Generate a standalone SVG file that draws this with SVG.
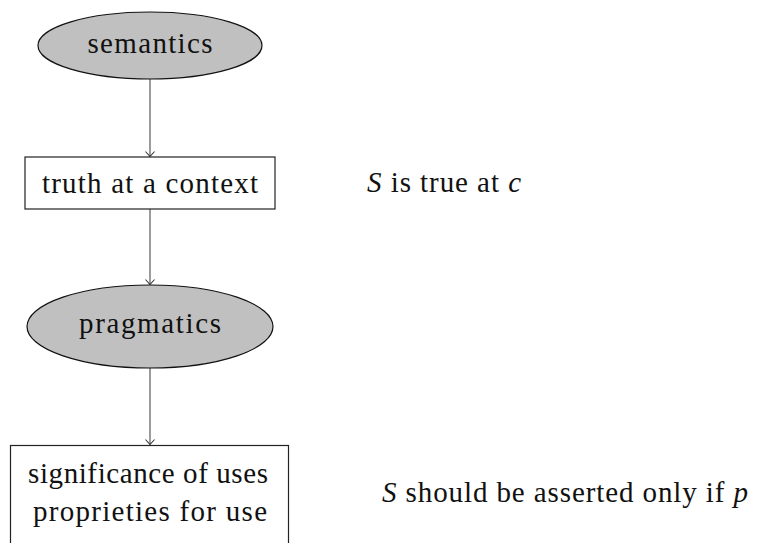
<svg xmlns="http://www.w3.org/2000/svg" width="758" height="543" viewBox="0 0 758 543" font-family="'Liberation Serif', 'Times New Roman', serif">
<defs>
<style>
text{font-family:"Liberation Serif","Times New Roman",serif;font-size:29px;fill:#111}
.c{text-anchor:middle}
.i{font-style:italic}
.ell{fill:#c0c0c0;stroke:#111;stroke-width:1.2}
.box{fill:#fff;stroke:#222;stroke-width:1.2}
.edge{stroke:#666;stroke-width:1.3;fill:none}
</style>
<marker id="ah" markerWidth="12" markerHeight="12" refX="8" refY="6" orient="auto" markerUnits="userSpaceOnUse">
<path d="M3,1.5 L8,6 L3,10.5" fill="none" stroke="#333" stroke-width="1.1"/>
</marker>
</defs>
<rect width="758" height="543" fill="#fff"/>
<g id="connectors">
<line class="edge" x1="150" y1="79" x2="150" y2="156.5" marker-end="url(#ah)"/>
<line class="edge" x1="150" y1="209" x2="150" y2="284.5" marker-end="url(#ah)"/>
<line class="edge" x1="150" y1="368" x2="150" y2="444.5" marker-end="url(#ah)"/>
</g>
<g id="semantics">
<ellipse class="ell" cx="150" cy="45.5" rx="112" ry="33.5"/>
<text class="c" x="150" y="53" textLength="125">semantics</text>
</g>
<g id="truth">
<rect class="box" x="25" y="157" width="250" height="52"/>
<text class="c" x="150" y="193" textLength="216">truth at a context</text>
</g>
<g id="truth-label">
<text x="367" y="192" textLength="154"><tspan class="i">S</tspan> is true at <tspan class="i">c</tspan></text>
</g>
<g id="pragmatics">
<ellipse class="ell" cx="150" cy="326.5" rx="123" ry="41.5"/>
<text class="c" x="150" y="333" textLength="142">pragmatics</text>
</g>
<g id="significance">
<rect class="box" x="10.5" y="445.5" width="278" height="120"/>
<text class="c" x="148" y="483" textLength="240">significance of uses</text>
<text class="c" x="150" y="521" textLength="234">proprieties for use</text>
</g>
<g id="significance-label">
<text x="382" y="502" textLength="366"><tspan class="i">S</tspan> should be asserted only if <tspan class="i">p</tspan></text>
</g>
</svg>
